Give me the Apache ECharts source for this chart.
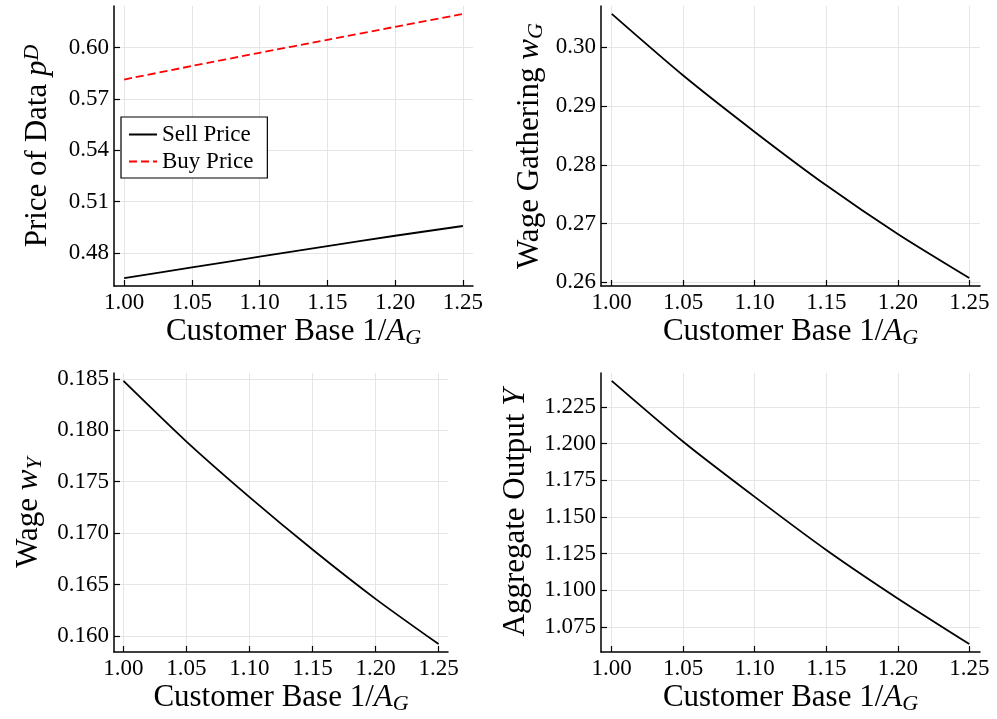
<!DOCTYPE html>
<html>
<head>
<meta charset="utf-8">
<title>Customer base comparative statics</title>
<script src="https://cdn.jsdelivr.net/npm/echarts@6/dist/echarts.min.js"></script>
<style>
  html, body { margin: 0; padding: 0; background: #fff; }
  #chart { width: 997px; height: 719px; }
</style>
</head>
<body>
<div id="chart"></div>
<script>
// customer base 1/A_G on the x axis
const customerBase = [1.00, 1.05, 1.10, 1.15, 1.20, 1.25]

const sellPrice = [0.4654, 0.4716, 0.4779, 0.4841, 0.4901, 0.4958]
const buyPrice = [0.5813, 0.5892, 0.5969, 0.6045, 0.6121, 0.6196]
const wageGathering = [0.3057, 0.2952, 0.2856, 0.2765, 0.2682, 0.2607]
const wageY = [0.1848, 0.1789, 0.1735, 0.1684, 0.1636, 0.1592]
const outputY = [1.2427, 1.2012, 1.1636, 1.1274, 1.0943, 1.0632]

const xTicks = [1.00, 1.05, 1.10, 1.15, 1.20, 1.25]
const priceTicks = [0.48, 0.51, 0.54, 0.57, 0.60]
const wageGTicks = [0.26, 0.27, 0.28, 0.29, 0.30]
const wageYTicks = [0.160, 0.165, 0.170, 0.175, 0.180, 0.185]
const outputTicks = [1.075, 1.100, 1.125, 1.150, 1.175, 1.200, 1.225]

const FONT = "'Liberation Serif', 'DejaVu Serif', serif"
const GRID_COLOR = '#e5e5e5'

const mathRich = {
  n: { fontFamily: FONT, fontSize: 31, color: '#000', lineHeight: 34 },
  i: { fontFamily: FONT, fontSize: 31, color: '#000', fontStyle: 'italic', lineHeight: 34 },
  sub: { fontFamily: FONT, fontSize: 22, color: '#000', fontStyle: 'italic', lineHeight: 10, verticalAlign: 'bottom' },
  sup: { fontFamily: FONT, fontSize: 22, color: '#000', fontStyle: 'italic', lineHeight: 14, verticalAlign: 'top' }
}

const xName = '{n|Customer Base 1/}{i|A}{sub|G}'

// Plots.jl style: pad the data range by 3% on each side
function widen(values) {
  const lo = Math.min(...values)
  const hi = Math.max(...values)
  const pad = (hi - lo) * 0.03
  return [lo - pad, hi + pad]
}

function buildAxes(idx, yName, yTicks, yDigits, yValues, yGap) {
  const [xMin, xMax] = widen(customerBase)
  const [yMin, yMax] = widen(yValues)
  const line = { show: true, onZero: false, lineStyle: { color: '#000', width: 1.5 } }
  const tickStyle = { lineStyle: { color: '#000', width: 1.2 } }
  return {
    x: {
      type: 'value',
      gridIndex: idx,
      min: xMin,
      max: xMax,
      name: xName,
      nameLocation: 'middle',
      nameGap: 29,
      nameTextStyle: { rich: mathRich },
      axisLine: line,
      axisTick: { show: true, inside: true, length: 6, customValues: xTicks, ...tickStyle },
      axisLabel: {
        customValues: xTicks,
        margin: 5,
        color: '#000',
        fontFamily: FONT,
        fontSize: 23,
        formatter: v => v.toFixed(2)
      },
      splitLine: { show: true, lineStyle: { color: GRID_COLOR, width: 1 } }
    },
    y: {
      type: 'value',
      gridIndex: idx,
      min: yMin,
      max: yMax,
      name: yName,
      nameLocation: 'middle',
      nameGap: yGap,
      nameTextStyle: { rich: mathRich },
      axisLine: line,
      axisTick: { show: true, inside: true, length: 6, customValues: yTicks, ...tickStyle },
      axisLabel: {
        customValues: yTicks,
        margin: 5,
        color: '#000',
        fontFamily: FONT,
        fontSize: 23,
        formatter: v => v.toFixed(yDigits)
      },
      splitLine: { show: true, lineStyle: { color: GRID_COLOR, width: 1 } }
    }
  }
}

function lineSeries(idx, name, values, color, dashed) {
  return {
    name: name,
    type: 'line',
    xAxisIndex: idx,
    yAxisIndex: idx,
    data: customerBase.map((x, k) => [x, values[k]]),
    smooth: 0.25,
    symbol: 'none',
    silent: true,
    lineStyle: { color: color, width: 1.8, type: dashed ? [8, 4] : 'solid' },
    itemStyle: { color: color }
  }
}

const panels = [
  buildAxes(0, '{n|Price of Data }{i|p}{sup|D}', priceTicks, 2, sellPrice.concat(buyPrice), 59),
  buildAxes(1, '{n|Wage Gathering }{i|w}{sub|G}', wageGTicks, 2, wageGathering, 54),
  buildAxes(2, '{n|Wage }{i|w}{sub|Y}', wageYTicks, 3, wageY, 68),
  buildAxes(3, '{n|Aggregate Output }{i|Y}', outputTicks, 3, outputY, 68)
]

const chart = echarts.init(document.getElementById('chart'), null, { renderer: 'canvas' })

chart.setOption({
  backgroundColor: '#fff',
  animation: false,
  grid: [
    { left: 114, top: 6, width: 359, height: 280 },
    { left: 601, top: 6, width: 379, height: 280 },
    { left: 114, top: 373, width: 334, height: 279 },
    { left: 601, top: 373, width: 379, height: 279 }
  ],
  xAxis: panels.map(p => p.x),
  yAxis: panels.map(p => p.y),
  legend: {
    data: ['Sell Price', 'Buy Price'],
    orient: 'vertical',
    left: 121,
    top: 117,
    padding: [6, 14, 5, 7],
    itemGap: 4,
    itemWidth: 28,
    itemHeight: 14,
    itemStyle: { opacity: 0 },
    backgroundColor: '#fff',
    borderColor: '#000',
    borderWidth: 1.2,
    borderRadius: 0,
    selectedMode: false,
    textStyle: { fontFamily: FONT, fontSize: 23, color: '#000', lineHeight: 20 }
  },
  series: [
    lineSeries(0, 'Sell Price', sellPrice, '#000', false),
    lineSeries(0, 'Buy Price', buyPrice, '#ff0000', true),
    lineSeries(1, 'wG', wageGathering, '#000', false),
    lineSeries(2, 'wY', wageY, '#000', false),
    lineSeries(3, 'Y', outputY, '#000', false)
  ]
})
</script>
</body>
</html>
